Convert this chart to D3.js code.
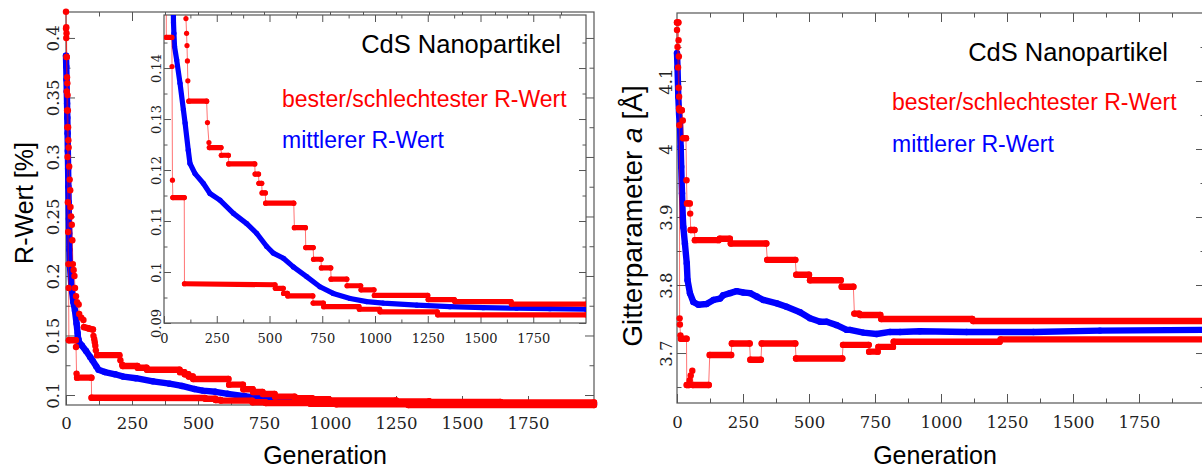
<!DOCTYPE html>
<html>
<head>
<meta charset="utf-8">
<script src="https://cdn.jsdelivr.net/npm/d3@7"></script>
<style>
  body { margin: 0; background: #fff; }
</style>
</head>
<body>
<div id="vis"></div>
<script>
// Tamaño de la imagen
const WIDTH = 1202;
const HEIGHT = 468;

// Ticks
const genTicks = [0, 250, 500, 750, 1000, 1250, 1500, 1750];
const genMinor = [125, 375, 625, 875, 1125, 1375, 1625, 1875];
const rTicks = [0.1, 0.15, 0.2, 0.25, 0.3, 0.35, 0.4];
const rMinor = [0.125, 0.175, 0.225, 0.275, 0.325, 0.375];
const insetTicks = [0.09, 0.1, 0.11, 0.12, 0.13, 0.14];
const insetMinor = [0.095, 0.105, 0.115, 0.125, 0.135, 0.145];
const aTicks = [3.7, 3.8, 3.9, 4, 4.1];
const aMinor = [3.65, 3.75, 3.85, 3.95, 4.05, 4.15];

// R-Wert: [Generation, Wert]  (schlechtester, bester, mittlerer)
const rWorst = [[0,0.422],[1,0.409],[2,0.404],[3,0.384],[4,0.367],[5,0.362],[6,0.352],[7,0.339],[8,0.325],
  [9,0.314],[10,0.308],[12,0.292],[14,0.281],[16,0.272],[17,0.258],[19,0.250],[22,0.243],[24,0.230],
  [26,0.210],[29,0.205],[32,0.200],[34,0.190],[38,0.183],[42,0.178],[48,0.176],[50,0.168],[58,0.165],
  [66,0.163],[68,0.157],[85,0.156],[102,0.155],[104,0.1497],[107,0.1468],[109,0.1444],[111,0.1414],
  [113,0.1375],[118,0.1335],[202,0.1335],[206,0.1293],[213,0.1254],[215,0.1244],[270,0.1244],
  [272,0.1229],[305,0.1229],[307,0.1212],[430,0.1212],[432,0.1192],[448,0.1192],[450,0.1174],
  [463,0.1174],[465,0.1155],[480,0.1155],[482,0.1135],[615,0.1135],[618,0.1087],[670,0.1087],
  [672,0.1048],[707,0.1048],[709,0.1025],[744,0.1025],[746,0.1008],[790,0.1008],[792,0.0986],
  [866,0.0986],[868,0.0973],[932,0.0973],[934,0.0965],[995,0.0965],[997,0.0954],[1250,0.0954],
  [1252,0.0946],[1376,0.0946],[1378,0.0942],[1645,0.0942],[1647,0.0937],[2000,0.0937]];
const rBest = [[0,0.408],[1,0.400],[2,0.384],[3,0.355],[4,0.339],[5,0.325],[6,0.300],[7,0.262],
  [8,0.237],[9,0.210],[10,0.190],[11,0.146],[37,0.146],[38,0.1403],[40,0.118],[42,0.1146],[96,0.1146],
  [97,0.0977],[526,0.0975],[528,0.0968],[565,0.0968],[567,0.0958],[585,0.0958],[587,0.0953],
  [705,0.0953],[707,0.0939],[755,0.0939],[757,0.0932],[924,0.0932],[926,0.0927],[1022,0.0927],
  [1024,0.0922],[1295,0.0922],[1297,0.0916],[2000,0.0916]];
const rMean = [[0,0.385],[1,0.376],[2,0.365],[3,0.355],[4,0.345],[5,0.333],[6,0.320],[7,0.305],
  [8,0.290],[9,0.275],[10,0.262],[11,0.248],[12,0.236],[13,0.222],[15,0.208],[21,0.190],[28,0.178],
  [34,0.171],[40,0.160],[44,0.152],[45,0.1489],[47,0.1468],[50,0.1442],[60,0.1416],[76,0.1370],
  [92,0.1318],[100,0.1292],[115,0.1239],[123,0.1213],[147,0.1193],[186,0.1174],[218,0.1154],
  [265,0.1141],[329,0.1115],[392,0.1095],[439,0.1076],[487,0.1050],[518,0.1037],[566,0.1027],
  [613,0.1010],[676,0.0991],[739,0.0971],[802,0.0958],[882,0.0948],[961,0.0942],[1039,0.0939],
  [1198,0.0935],[1355,0.0932],[1513,0.0930],[1671,0.0929],[1829,0.0928],[2000,0.0927]];

// Gitterparameter a: [Generation, Wert]
const aWorst = [[0,4.186],[5,4.186],[6,4.160],[7,4.136],[8,4.077],[10,4.057],[18,4.057],[22,4.042],
  [24,4.016],[34,4.016],[36,3.954],[38,3.920],[48,3.920],[50,3.905],[52,3.881],[66,3.881],[68,3.866],
  [157,3.866],[162,3.868],[200,3.868],[204,3.861],[338,3.861],[342,3.837],[448,3.837],[452,3.815],
  [500,3.815],[504,3.807],[620,3.807],[624,3.7975],[668,3.7975],[672,3.758],[690,3.758],[694,3.756],
  [770,3.756],[774,3.750],[1118,3.750],[1122,3.747],[2000,3.747]];
const aBest = [[0,4.175],[2,4.150],[4,4.120],[6,4.090],[8,4.060],[9,4.035],[10,3.751],[11,3.742],
  [13,3.726],[15,3.721],[36,3.721],[37,3.653],[45,3.653],[48,3.660],[52,3.667],[58,3.674],[60,3.653],
  [120,3.653],[124,3.697],[205,3.697],[208,3.714],[275,3.714],[278,3.690],[318,3.690],[321,3.714],
  [448,3.714],[451,3.692],[626,3.692],[629,3.712],[726,3.712],[728,3.702],[760,3.702],[763,3.709],
  [818,3.709],[821,3.7166],[1222,3.7166],[1226,3.720],[2000,3.720]];
const aMean = [[0,4.141],[2,4.120],[5,4.077],[8,4.050],[11,4.038],[14,4.003],[16,3.974],[19,3.935],
  [22,3.900],[24,3.885],[30,3.861],[37,3.832],[40,3.807],[49,3.788],[62,3.775],[81,3.771],[112,3.772],
  [138,3.778],[163,3.780],[175,3.785],[201,3.788],[226,3.791],[251,3.789],[277,3.788],[302,3.783],
  [327,3.778],[378,3.773],[415,3.768],[466,3.760],[504,3.751],[542,3.746],[567,3.746],[605,3.741],
  [643,3.734],[655,3.734],[706,3.730],[756,3.728],[807,3.731],[845,3.731],[920,3.732],[1097,3.731],
  [1350,3.731],[1602,3.733],[2000,3.734]];

const RED = "#ff0000";
const BLUE = "#0000ff";
const SANS = "'Liberation Sans', Arial, sans-serif";
const SERIF = "'DejaVu Serif', serif";

const SVG = d3.select("#vis").append("svg")
  .attr("width", WIDTH)
  .attr("height", HEIGHT)
  .style("display", "block");

const fmt = d => String(+d.toFixed(3));

// Dibuja un panel (marco, ticks y etiquetas), devuelve las escalas
function panel(cfg) {
  const xs = d3.scaleLinear().domain([0, 2000]).range([cfg.left, cfg.right]);
  const ys = d3.scaleLinear().domain(cfg.yDomain).range([cfg.bottom, cfg.top]);
  const g = SVG.append("g");

  g.append("rect")
    .attr("x", cfg.left).attr("y", cfg.top)
    .attr("width", cfg.right - cfg.left).attr("height", cfg.bottom - cfg.top)
    .attr("fill", "#fff");

  const add = (axis, transform) => {
    const a = g.append("g").attr("transform", transform).call(axis.tickSizeOuter(0));
    a.select(".domain").remove();
    a.selectAll("line").attr("stroke", "#555");
    a.attr("font-family", SERIF).attr("font-size", cfg.font);
    a.selectAll("text").attr("fill", "#222");
    return a;
  };
  const big = cfg.tick, small = cfg.tick * 0.5;

  // eje X (abajo con etiquetas, arriba sin)
  const bx = add(d3.axisBottom(xs).tickValues(genTicks).tickSizeInner(-big).tickFormat(fmt), `translate(0,${cfg.bottom})`);
  bx.selectAll("text").attr("y", cfg.xLabOff).attr("dy", null).attr("dominant-baseline", "central");
  add(d3.axisBottom(xs).tickValues(genMinor).tickSizeInner(-small).tickFormat(""), `translate(0,${cfg.bottom})`);
  add(d3.axisTop(xs).tickValues(genTicks.slice(1)).tickSizeInner(-big).tickFormat(""), `translate(0,${cfg.top})`);
  add(d3.axisTop(xs).tickValues(genMinor).tickSizeInner(-small).tickFormat(""), `translate(0,${cfg.top})`);

  // eje Y (izquierda con etiquetas giradas, derecha sin)
  const ly = add(d3.axisLeft(ys).tickValues(cfg.yTicks).tickSizeInner(-big).tickFormat(fmt), `translate(${cfg.left},0)`);
  ly.selectAll("text")
    .attr("x", null).attr("dy", null)
    .attr("text-anchor", "middle").attr("dominant-baseline", "central")
    .attr("transform", `translate(${-cfg.yLabOff},0) rotate(-90)`);
  add(d3.axisLeft(ys).tickValues(cfg.yMinor).tickSizeInner(-small).tickFormat(""), `translate(${cfg.left},0)`);
  add(d3.axisRight(ys).tickValues(cfg.yTicks).tickSizeInner(-big).tickFormat(""), `translate(${cfg.right},0)`);
  add(d3.axisRight(ys).tickValues(cfg.yMinor).tickSizeInner(-small).tickFormat(""), `translate(${cfg.right},0)`);

  g.append("rect")
    .attr("x", cfg.left).attr("y", cfg.top)
    .attr("width", cfg.right - cfg.left).attr("height", cfg.bottom - cfg.top)
    .attr("fill", "none").attr("stroke", "#555").attr("stroke-width", 1.2);

  const data = g.append("g");
  if (cfg.clip) {
    SVG.append("clipPath").attr("id", cfg.clip).append("rect")
      .attr("x", cfg.left).attr("y", cfg.top)
      .attr("width", cfg.right - cfg.left).attr("height", cfg.bottom - cfg.top);
    data.attr("clip-path", `url(#${cfg.clip})`);
  }
  return { xs, ys, g, data };
}

// Serie: línea fina, tramos planos gruesos y puntos
function series(p, rows, color, r, thickAll) {
  const { xs, ys, data } = p;
  const line = d3.line().x(d => xs(d[0])).y(d => ys(d[1]));
  if (thickAll) {
    data.append("path").datum(rows).attr("d", line)
      .attr("fill", "none").attr("stroke", color)
      .attr("stroke-width", 2 * r).attr("stroke-linejoin", "round").attr("stroke-linecap", "round");
  } else {
    data.append("path").datum(rows).attr("d", line)
      .attr("fill", "none").attr("stroke", color).attr("stroke-width", 1).attr("stroke-opacity", 0.55);
    const flat = d3.pairs(rows).filter(([a, b]) =>
      Math.abs(ys(b[1]) - ys(a[1])) <= Math.abs(xs(b[0]) - xs(a[0])));
    data.selectAll(null).data(flat).join("line")
      .attr("x1", d => xs(d[0][0])).attr("y1", d => ys(d[0][1]))
      .attr("x2", d => xs(d[1][0])).attr("y2", d => ys(d[1][1]))
      .attr("stroke", color).attr("stroke-width", 2 * r).attr("stroke-linecap", "round");
  }
  data.selectAll(null).data(rows).join("circle")
    .attr("cx", d => xs(d[0])).attr("cy", d => ys(d[1]))
    .attr("r", r).attr("fill", color);
}

function legend(x, right, yTitle, yRed, yBlue) {
  SVG.append("text").attr("x", right).attr("y", yTitle).attr("text-anchor", "end")
    .attr("font-family", SANS).attr("font-size", 25.5).attr("fill", "#000")
    .text("CdS Nanopartikel");
  SVG.append("text").attr("x", x).attr("y", yRed)
    .attr("font-family", SANS).attr("font-size", 23).attr("fill", RED)
    .text("bester/schlechtester R-Wert");
  SVG.append("text").attr("x", x).attr("y", yBlue)
    .attr("font-family", SANS).attr("font-size", 23).attr("fill", BLUE)
    .text("mittlerer R-Wert");
}

// Panel izquierdo: R-Wert
const pL = panel({ left: 66, right: 594, top: 12, bottom: 405, yDomain: [0.0916, 0.4218],
  yTicks: rTicks, yMinor: rMinor, font: 16.5, tick: 9, xLabOff: 18.5, yLabOff: 12.5 });
series(pL, rMean, BLUE, 3.2, true);
series(pL, rWorst, RED, 3.2, false);
series(pL, rBest, RED, 3.2, false);

// Recuadro (zoom)
const pI = panel({ left: 164, right: 586, top: 15, bottom: 323, yDomain: [0.09, 0.1504],
  yTicks: insetTicks, yMinor: insetMinor, font: 13, tick: 7, xLabOff: 15, yLabOff: 8, clip: "clipInset" });
series(pI, rMean, BLUE, 2.6, true);
series(pI, rWorst, RED, 2.6, false);
series(pI, rBest, RED, 2.6, false);
legend(282, 561, 53, 107, 148);

// Panel derecho: Gitterparameter
const pR = panel({ left: 677, right: 1205, top: 13, bottom: 403, yDomain: [3.6265, 4.2],
  yTicks: aTicks, yMinor: aMinor, font: 16.5, tick: 9, xLabOff: 19.5, yLabOff: 11 });
series(pR, aMean, BLUE, 3.2, true);
series(pR, aWorst, RED, 3.2, false);
series(pR, aBest, RED, 3.2, false);
legend(892, 1168, 61, 110, 152);

// Títulos de ejes
SVG.append("text").attr("transform", "translate(33,203) rotate(-90)").attr("text-anchor", "middle")
  .attr("font-family", SANS).attr("font-size", 25).text("R-Wert [%]");
const yl = SVG.append("text").attr("transform", "translate(642,216) rotate(-90)").attr("text-anchor", "middle")
  .attr("font-family", SANS).attr("font-size", 28);
yl.append("tspan").text("Gitterparameter ");
yl.append("tspan").attr("font-style", "italic").text("a");
yl.append("tspan").text(" [Å]");
SVG.append("text").attr("x", 325).attr("y", 464).attr("text-anchor", "middle")
  .attr("font-family", SANS).attr("font-size", 25).text("Generation");
SVG.append("text").attr("x", 935).attr("y", 464).attr("text-anchor", "middle")
  .attr("font-family", SANS).attr("font-size", 25).text("Generation");
</script>
</body>
</html>
